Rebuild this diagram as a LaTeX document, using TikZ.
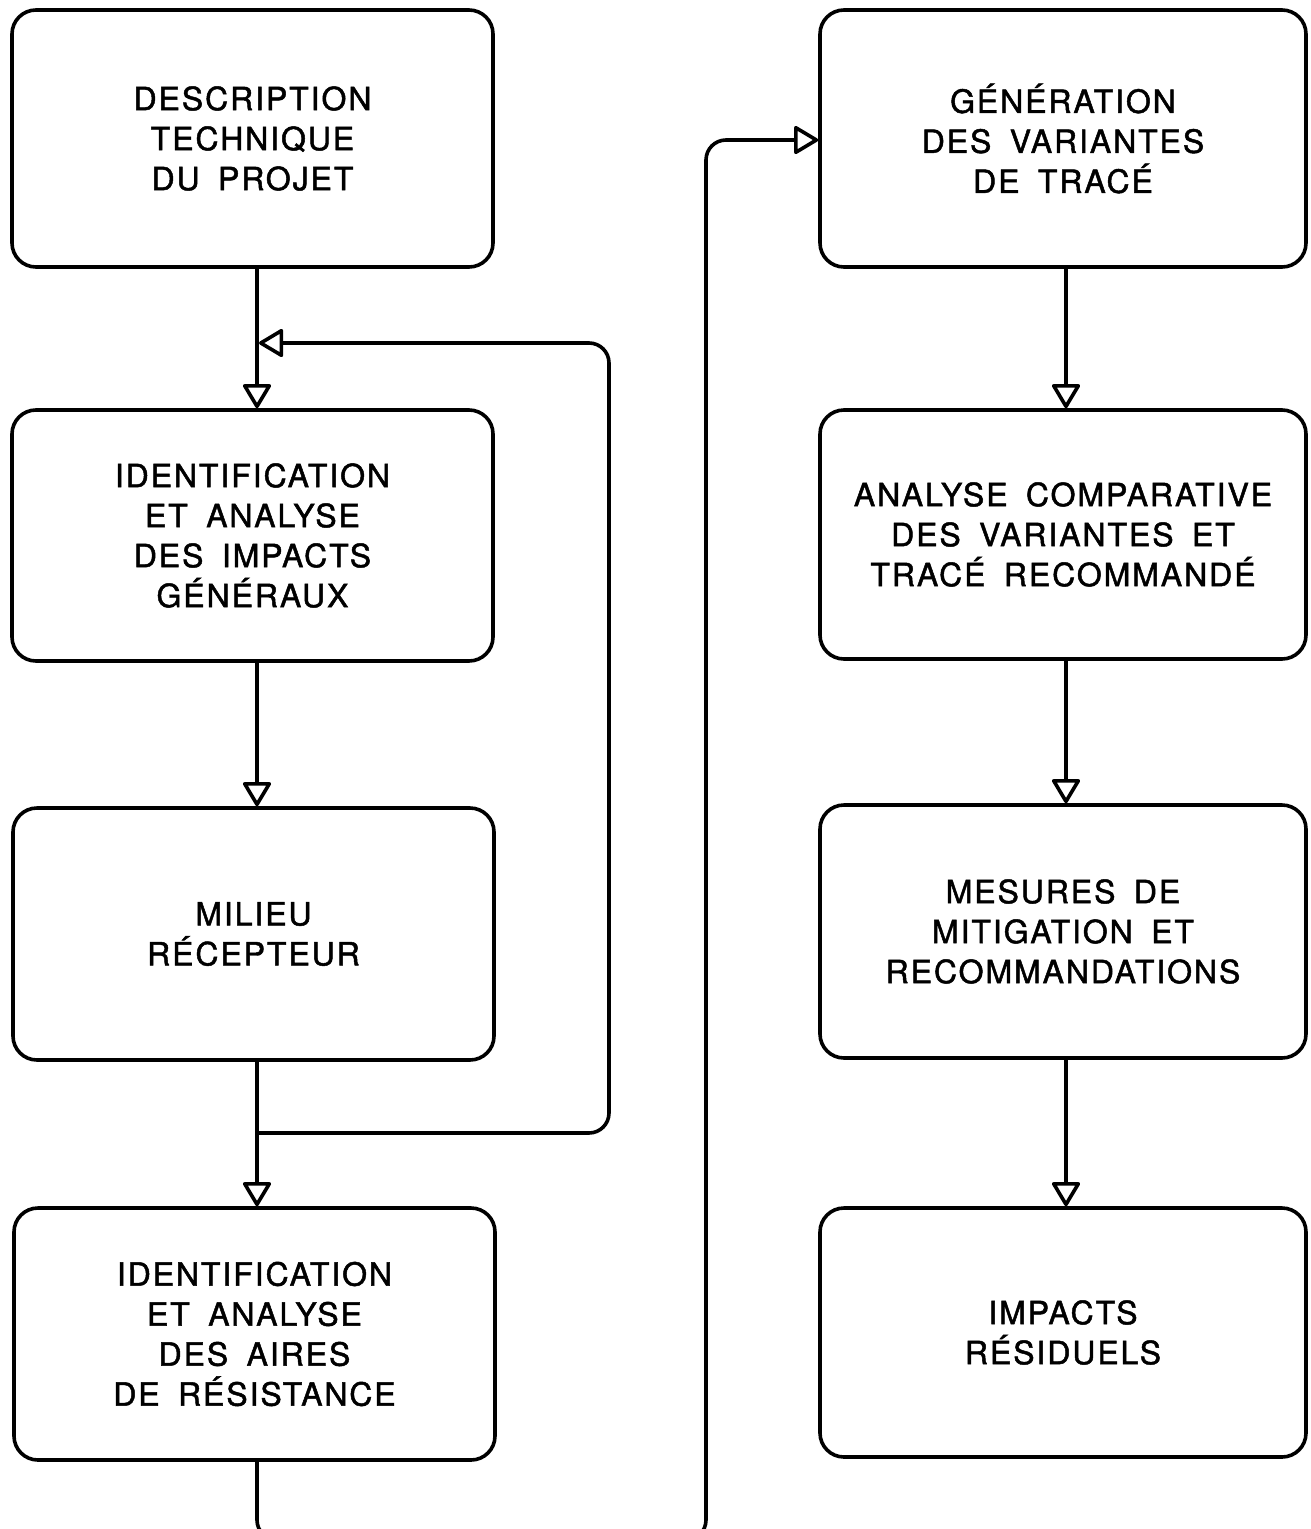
\documentclass[tikz,border=0pt]{standalone}
\usepackage{fontspec}
\newfontfamily\lab[LetterSpace=6, FakeBold=1.5, WordSpace=1.7]{TeX Gyre Heros}
\usetikzlibrary{arrows.meta}
\begin{document}
\begin{tikzpicture}[x=1pt,y=-1pt,
  box/.style={draw, line width=3.6pt, rounded corners=24pt, inner sep=0pt,
    minimum width=481pt, minimum height=255pt, align=center,
    font=\lab\fontsize{32}{40}\selectfont},
  conn/.style={line width=3.6pt, line join=round, rounded corners=20pt},
  tip/.style={-{Triangle[open, length=26pt, width=30pt, round]}}
]
\useasboundingbox (0,0) rectangle (1310,1529);
\clip (0,0) rectangle (1310,1529);
% left column
\node[box, minimum height=257pt] (b1) at (252.5,138.5) {DESCRIPTION\\TECHNIQUE\\DU PROJET};
\node[box, minimum height=251pt] (b2) at (252.5,535.5) {IDENTIFICATION\\ET ANALYSE\\DES IMPACTS\\GÉNÉRAUX};
\node[box, minimum height=252pt] (b3) at (253.5,934) {MILIEU\\RÉCEPTEUR};
\node[box, minimum height=252pt] (b4) at (254.5,1334) {IDENTIFICATION\\ET ANALYSE\\DES AIRES\\DE RÉSISTANCE};
% right column
\node[box, minimum width=486pt, minimum height=257pt] (r1) at (1063,138.5) {GÉNÉRATION\\DES VARIANTES\\DE TRACÉ};
\node[box, minimum width=486pt, minimum height=249pt] (r2) at (1063,534.5) {ANALYSE COMPARATIVE\\DES VARIANTES ET\\TRACÉ RECOMMANDÉ};
\node[box, minimum width=486pt, minimum height=253pt] (r3) at (1063,931.5) {MESURES DE\\MITIGATION ET\\RECOMMANDATIONS};
\node[box, minimum width=486pt, minimum height=249pt] (r4) at (1063,1332.5) {IMPACTS\\RÉSIDUELS};
% guide coordinates
\coordinate (lx) at (257,0);
\coordinate (rx) at (1066,0);
\coordinate (j) at (257,1133);
\coordinate (fb) at (259,343);
\coordinate (fr) at (609,0);
\coordinate (bot) at (0,1540);
\coordinate (up) at (706,0);
\coordinate (ay) at (0,140);
% left arrows
\draw[conn, tip] (b1.south -| lx) -- (b2.north -| lx);
\draw[conn, tip] (b2.south -| lx) -- (b3.north -| lx);
\draw[conn, tip] (b3.south -| lx) -- (b4.north -| lx);
\draw[conn, tip] (j) -- (j -| fr) -- (fb -| fr) -- (fb);
% bottom link to right column
\draw[conn, tip] (b4.south -| lx) -- (bot -| lx) -- (bot -| up) -- (ay -| up) -- (r1.west |- ay);
% right arrows
\draw[conn, tip] (r1.south -| rx) -- (r2.north -| rx);
\draw[conn, tip] (r2.south -| rx) -- (r3.north -| rx);
\draw[conn, tip] (r3.south -| rx) -- (r4.north -| rx);
\end{tikzpicture}
\end{document}
